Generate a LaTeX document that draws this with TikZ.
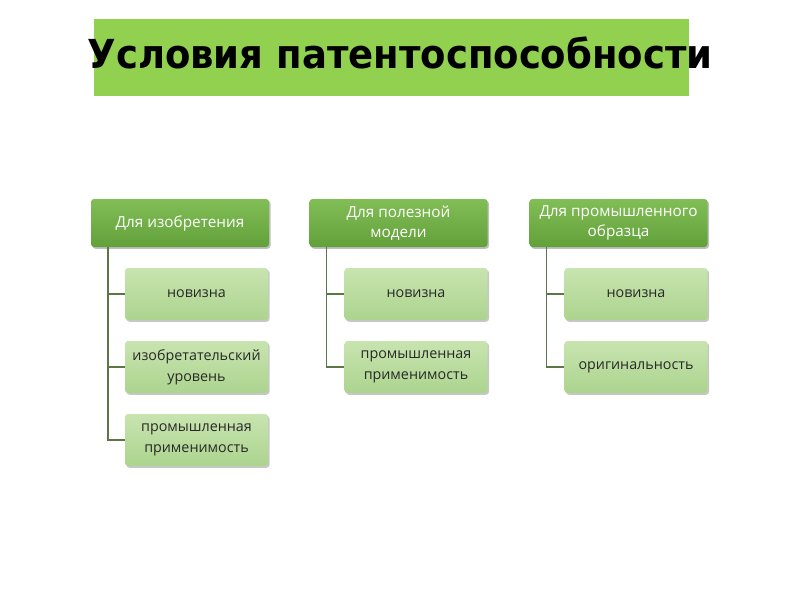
\documentclass[tikz,border=0pt]{standalone}
\usepackage{fontspec}
\setmainfont{Open Sans}
\newfontfamily\ttlfont{DejaVu Sans}
\usetikzlibrary{shadows}
\definecolor{barbg}{RGB}{146,208,80}
\definecolor{hdtop}{RGB}{130,190,86}
\definecolor{hdbot}{RGB}{98,160,58}
\definecolor{ittop}{RGB}{200,228,176}
\definecolor{itbot}{RGB}{172,212,142}
\definecolor{connc}{RGB}{92,118,68}
\definecolor{ink}{RGB}{40,40,40}

\begin{document}
\begin{tikzpicture}[x=1pt, y=-1pt,
    head/.style={rectangle, rounded corners=3pt, top color=hdtop, bottom color=hdbot,
              draw=none, minimum width=178pt, minimum height=48pt, inner sep=2pt,
              align=center, text=white, font=\fontsize{15.3}{19.5}\selectfont,
              drop shadow={shadow xshift=1.5pt, shadow yshift=-1.8pt, opacity=0.25, fill=black}},
    item/.style={rectangle, rounded corners=3pt, top color=ittop, bottom color=itbot,
              draw=none, minimum width=143pt, minimum height=52pt, inner sep=2pt,
              align=center, text=ink, font=\fontsize{14.3}{21}\selectfont,
              drop shadow={shadow xshift=1.5pt, shadow yshift=-1.8pt, opacity=0.22, fill=black}},
    conn/.style={draw=connc, line width=1.6pt},
    ttl/.style={font=\ttlfont\bfseries\fontsize{37}{40}\selectfont, text=black, inner sep=0pt}]
  \useasboundingbox (0,0) rectangle (800,600);

  % ---------- title bar ---------------------------------------------------
  \fill[barbg] (94,19) rectangle (689,96);
  \node[ttl, yscale=1.08] (title) at (400,53) {Условия патентоспособности};

  % ---------- the three headings ------------------------------------------
  \node[head] (h1) at (180,223)   {Для изобретения};
  \node[head] (h2) at (398.5,223) {Для полезной\\модели};
  \node[head] (h3) at (618.5,223) {Для промышленного\\образца};

  % ---------- their conditions --------------------------------------------
  \foreach \k/\txt in {1/новизна, 2/изобретательский\\уровень, 3/промышленная\\применимость}
    { \node[item] (a\k) at (196.5,{221+73*\k}) {\txt}; }
  \foreach \k/\txt in {1/новизна, 2/промышленная\\применимость}
    { \node[item] (b\k) at (416,{221+73*\k}) {\txt}; }
  \foreach \k/\txt in {1/новизна, 2/оригинальность}
    { \node[item] (c\k) at (636,{221+73*\k}) {\txt}; }

  % ---------- tree connectors ---------------------------------------------
  \foreach \k in {1,2,3} { \draw[conn] ([xshift=17pt]h1.south west) |- (a\k.west); }
  \foreach \k in {1,2}   { \draw[conn] ([xshift=17pt]h2.south west) |- (b\k.west); }
  \foreach \k in {1,2}   { \draw[conn] ([xshift=17pt]h3.south west) |- (c\k.west); }
\end{tikzpicture}
\end{document}
